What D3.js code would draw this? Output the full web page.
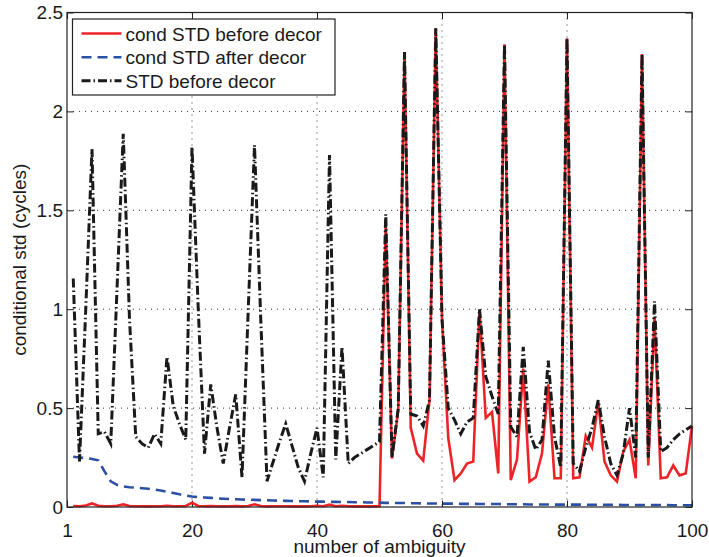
<!DOCTYPE html>
<html>
<head>
<meta charset="utf-8">
<script src="https://cdn.jsdelivr.net/npm/d3@7"></script>
<style>
  body{margin:0;background:#fff;}
  text{font-family:"Liberation Sans",Arial,Helvetica,sans-serif;fill:#1a1a1a;}
</style>
</head>
<body>
<div id="chart"></div>
<script>
// x tick positions and their labels (first tick sits at the axis origin, labelled 1)
var xTickVals=[0,20,40,60,80,100];
var xTickLabels=["1","20","40","60","80","100"];
var yTickVals=[0,0.5,1,1.5,2,2.5];
var yTickLabels=["0","0.5","1","1.5","2","2.5"];

var seriesNames=["cond STD before decor","cond STD after decor","STD before decor"];

// cond STD before decor (index 1..100)
var condBefore=[
  0.005,0.004,0.008,0.018,0.006,0.004,0.004,0.006,0.014,0.005,
  0.004,0.004,0.003,0.004,0.004,0.006,0.004,0.004,0.005,0.022,
  0.005,0.004,0.005,0.004,0.003,0.004,0.005,0.003,0.005,0.014,
  0.005,0.003,0.004,0.004,0.004,0.003,0.003,0.003,0.004,0.006,
  0.004,0.012,0.004,0.006,0.004,0.003,0.003,0.003,0.003,0.004,
  1.43,0.245,0.49,2.30,0.40,0.27,0.234,0.54,2.42,0.95,
  0.35,0.136,0.17,0.22,0.23,1.0,0.45,0.48,0.17,2.34,
  0.136,0.24,0.70,0.128,0.15,0.27,0.62,0.145,0.145,2.37,
  0.145,0.15,0.36,0.30,0.53,0.23,0.16,0.128,0.28,0.34,
  0.145,2.29,0.21,0.96,0.145,0.15,0.21,0.16,0.17,0.41
];
// cond STD after decor
var condAfter=[
  0.254,0.250,0.247,0.243,0.236,0.180,0.130,0.112,0.104,0.100,
  0.098,0.095,0.092,0.088,0.083,0.077,0.071,0.064,0.058,0.053,
  0.050,0.048,0.046,0.044,0.042,0.040,0.039,0.038,0.037,0.036,
  0.035,0.034,0.033,0.032,0.031,0.030,0.029,0.029,0.028,0.027,
  0.027,0.026,0.026,0.025,0.025,0.024,0.024,0.023,0.023,0.022,
  0.021,0.021,0.020,0.020,0.019,0.019,0.018,0.018,0.018,0.017,
  0.017,0.017,0.016,0.016,0.016,0.015,0.015,0.015,0.015,0.014,
  0.014,0.014,0.014,0.013,0.013,0.013,0.013,0.012,0.012,0.012,
  0.012,0.012,0.011,0.011,0.011,0.011,0.011,0.011,0.010,0.010,
  0.010,0.010,0.010,0.010,0.010,0.010,0.009,0.009,0.009,0.009
];
// STD before decor
var stdBefore=[
  1.155,0.23,1.0,1.81,0.37,0.38,0.32,1.1,1.887,0.95,
  0.355,0.32,0.30,0.37,0.32,0.76,0.51,0.42,0.34,1.82,
  1.0,0.27,0.62,0.40,0.22,0.40,0.57,0.15,1.0,1.83,
  0.95,0.13,0.23,0.33,0.42,0.31,0.20,0.13,0.27,0.40,
  0.15,1.78,0.24,0.81,0.22,0.25,0.27,0.29,0.31,0.33,
  1.48,0.25,0.50,2.30,0.47,0.46,0.41,0.54,2.42,0.95,
  0.50,0.44,0.37,0.43,0.45,1.0,0.66,0.56,0.47,2.34,
  0.405,0.355,0.81,0.38,0.29,0.34,0.74,0.355,0.20,2.37,
  0.22,0.18,0.30,0.40,0.54,0.355,0.22,0.16,0.27,0.50,
  0.25,2.29,0.25,1.04,0.28,0.30,0.34,0.37,0.39,0.41
];

var width=709;
var height=557;
var padL=67,padR=692,padT=12.5,padB=507;
var tickLen=6.5;

var svg=d3.select("#chart")
    .append("svg")
    .attr("width",width)
    .attr("height",height);

var xScale=d3.scaleLinear()
    .domain([0,100])
    .range([padL,padR]);
var yScale=d3.scaleLinear()
    .domain([0,2.5])
    .range([padB,padT]);

// dotted grid
svg.append("g")
    .selectAll("line")
    .data(xTickVals.slice(1,-1))
    .enter()
    .append("line")
    .attr("x1",function(d){return xScale(d);})
    .attr("x2",function(d){return xScale(d);})
    .attr("y1",padT)
    .attr("y2",padB)
    .attr("stroke","#333")
    .attr("stroke-width",1)
    .attr("stroke-dasharray","1,5");
svg.append("g")
    .selectAll("line")
    .data(yTickVals.slice(1,-1))
    .enter()
    .append("line")
    .attr("y1",function(d){return yScale(d);})
    .attr("y2",function(d){return yScale(d);})
    .attr("x1",padL)
    .attr("x2",padR)
    .attr("stroke","#333")
    .attr("stroke-width",1)
    .attr("stroke-dasharray","1,5");

// axes with inward ticks
var xAxis=d3.axisBottom(xScale)
    .tickValues(xTickVals)
    .tickSize(-tickLen)
    .tickPadding(17)
    .tickFormat(function(d,i){return xTickLabels[i];});
var xAxisTop=d3.axisTop(xScale)
    .tickValues(xTickVals)
    .tickSize(-tickLen)
    .tickFormat("");
var yAxis=d3.axisLeft(yScale)
    .tickValues(yTickVals)
    .tickSize(-tickLen)
    .tickPadding(4)
    .tickFormat(function(d,i){return yTickLabels[i];});
var yAxisRight=d3.axisRight(yScale)
    .tickValues(yTickVals)
    .tickSize(-tickLen)
    .tickFormat("");

function styleAxis(g){
  g.select(".domain").remove();
  g.selectAll(".tick line").attr("stroke","#222");
  g.selectAll("text")
    .attr("font-size",19)
    .attr("fill","#1a1a1a")
    .attr("font-family","'Liberation Sans',Arial,Helvetica,sans-serif");
}

svg.append("g")
    .attr("transform","translate(0,"+padB+")")
    .call(xAxis)
    .call(styleAxis);
svg.append("g")
    .attr("transform","translate(0,"+padT+")")
    .call(xAxisTop)
    .call(styleAxis);
svg.append("g")
    .attr("transform","translate("+padL+",0)")
    .call(yAxis)
    .call(styleAxis);
svg.append("g")
    .attr("transform","translate("+padR+",0)")
    .call(yAxisRight)
    .call(styleAxis);

// lines
var line=d3.line()
    .x(function(d,i){return xScale(i+1);})
    .y(function(d){return yScale(d);});

var styles=[
  {color:"#ee2327",dash:null,w:2.6},
  {color:"#2b4fa3",dash:"10,6",w:2.6},
  {color:"#1a1a1a",dash:"9,3,1.5,3",w:3}
];
var allSeries=[condBefore,condAfter,stdBefore];

for(var s=0;s<allSeries.length;s++){
  svg.append("path")
      .datum(allSeries[s])
      .attr("fill","none")
      .attr("stroke",styles[s].color)
      .attr("stroke-width",styles[s].w)
      .attr("stroke-dasharray",styles[s].dash)
      .attr("stroke-linejoin","miter")
      .attr("d",line);
}

// axes box
svg.append("rect")
    .attr("x",padL)
    .attr("y",padT)
    .attr("width",padR-padL)
    .attr("height",padB-padT)
    .attr("fill","none")
    .attr("stroke","#222")
    .attr("stroke-width",1.2);

// axis labels
svg.append("text")
    .attr("text-anchor","middle")
    .attr("font-size",19)
    .attr("x",(padL+padR)/2)
    .attr("y",553)
    .text("number of ambiguity");
svg.append("text")
    .attr("text-anchor","middle")
    .attr("font-size",19)
    .attr("transform","translate(26,"+((padT+padB)/2)+") rotate(-90)")
    .text("conditional std (cycles)");

// legend
var legend=svg.append("g");
legend.append("rect")
    .attr("x",72.5)
    .attr("y",19)
    .attr("width",262.5)
    .attr("height",76)
    .attr("fill","#fff")
    .attr("stroke","#222")
    .attr("stroke-width",1.2);
var rowY=[33.5,57.3,80.8];
for(var k=0;k<seriesNames.length;k++){
  legend.append("line")
      .attr("x1",81.5)
      .attr("x2",121.5)
      .attr("y1",rowY[k])
      .attr("y2",rowY[k])
      .attr("stroke",styles[k].color)
      .attr("stroke-width",styles[k].w)
      .attr("stroke-dasharray",styles[k].dash);
  legend.append("text")
      .attr("x",125.5)
      .attr("y",rowY[k]+7)
      .attr("font-size",19)
      .text(seriesNames[k]);
}
</script>
</body>
</html>
